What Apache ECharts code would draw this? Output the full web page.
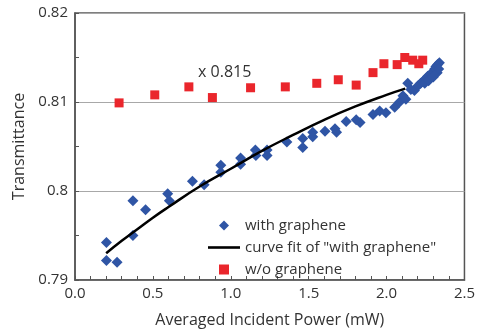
<!DOCTYPE html>
<html>
<head>
<meta charset="utf-8">
<script src="https://cdn.jsdelivr.net/npm/echarts@6/dist/echarts.min.js"></script>
<style>
  html, body { margin: 0; padding: 0; background: #fff; }
  #chart { width: 478px; height: 333px; }
</style>
</head>
<body>
<div id="chart"></div>
<script>
const blueColor = '#2f55a5';
const redColor = '#ea262c';
const textColor = '#333333';

// with graphene: [power mW, transmittance]
const withGraphene = [
  [0.202, 0.7942], [0.202, 0.7922], [0.270, 0.7920], [0.372, 0.7989], [0.372, 0.7950],
  [0.453, 0.7979], [0.595, 0.7997], [0.606, 0.7989], [0.754, 0.8011], [0.829, 0.8007],
  [0.936, 0.8029], [0.936, 0.8021], [1.063, 0.8037], [1.063, 0.8030], [1.158, 0.8046],
  [1.161, 0.8040], [1.233, 0.8046], [1.233, 0.8040], [1.360, 0.8055], [1.462, 0.8059],
  [1.462, 0.8049], [1.526, 0.8066], [1.526, 0.8061], [1.605, 0.8067], [1.669, 0.8070],
  [1.679, 0.8066], [1.741, 0.8078], [1.805, 0.8080], [1.830, 0.8077], [1.913, 0.8086],
  [1.956, 0.8090], [1.996, 0.8088], [2.052, 0.8094], [2.084, 0.8100], [2.105, 0.8107],
  [2.124, 0.8103], [2.136, 0.8121], [2.156, 0.8114], [2.179, 0.8113], [2.200, 0.8118],
  [2.219, 0.8121], [2.232, 0.8123], [2.251, 0.8126], [2.264, 0.8129], [2.277, 0.8127],
  [2.285, 0.8132], [2.290, 0.8129], [2.302, 0.8134], [2.309, 0.8137], [2.317, 0.8140],
  [2.328, 0.8142], [2.339, 0.8144], [2.245, 0.8121], [2.270, 0.8124], [2.300, 0.8128],
  [2.325, 0.8133], [2.335, 0.8137]
];

// curve fit of "with graphene"
const curveFit = [
  [0.20, 0.7930], [0.30, 0.7944], [0.40, 0.7957], [0.50, 0.7970], [0.60, 0.7982],
  [0.80, 0.8005], [1.00, 0.8025], [1.20, 0.8045], [1.40, 0.8063], [1.60, 0.8080],
  [1.80, 0.8095], [2.00, 0.8108], [2.12, 0.8115]
];

// w/o graphene (scaled x 0.815)
const withoutGraphene = [
  [0.283, 0.8099], [0.512, 0.8108], [0.731, 0.8117], [0.882, 0.8105], [1.127, 0.8116],
  [1.350, 0.8117], [1.552, 0.8121], [1.690, 0.8125], [1.805, 0.8119], [1.913, 0.8133],
  [1.983, 0.8143], [2.068, 0.8142], [2.117, 0.8150], [2.168, 0.8147], [2.207, 0.8143],
  [2.232, 0.8147]
];

const seriesNames = ['with graphene', 'curve fit of "with graphene"', 'w/o graphene'];
const scaleNote = 'x 0.815';

const myChart = echarts.init(document.getElementById('chart'));
const option = {
  animation: false,
  textStyle: { fontFamily: 'Open Sans', color: textColor },
  grid: {
    left: 75,
    right: 11,
    top: 13,
    bottom: 50,
    show: true,
    borderColor: '#555',
    borderWidth: 1.5,
  },
  legend: {
    orient: 'vertical',
    left: 203,
    top: 213,
    itemWidth: 32,
    itemHeight: 10,
    itemGap: 7,
    symbolKeepAspect: true,
    textStyle: { fontFamily: 'Open Sans', fontSize: 15, color: textColor },
    data: [
      { name: seriesNames[0], icon: 'path://M5,0L10,5L5,10L0,5Z' },
      { name: seriesNames[1], icon: 'path://M0,0H32V2.6H0Z' },
      { name: seriesNames[2], icon: 'path://M0,0H9V9H0Z' },
    ],
  },
  graphic: [
    {
      type: 'text',
      left: 198,
      top: 64,
      style: { text: scaleNote, font: '16px "Open Sans"', fill: textColor },
    },
  ],
  xAxis: {
    type: 'value',
    min: 0,
    max: 2.5,
    interval: 0.5,
    name: 'Averaged Incident Power (mW)',
    nameLocation: 'middle',
    nameGap: 32,
    nameTextStyle: { fontSize: 16, color: textColor },
    axisLine: { lineStyle: { color: '#555', width: 1.5 } },
    axisTick: { inside: true, length: 4, lineStyle: { color: '#555' } },
    minorTick: { show: true, splitNumber: 5, length: 4, lineStyle: { color: '#555' } },
    axisLabel: {
      fontSize: 15,
      color: textColor,
      margin: 6,
      formatter: (v) => v.toFixed(1),
    },
    splitLine: { show: false },
  },
  yAxis: {
    type: 'value',
    min: 0.79,
    max: 0.82,
    interval: 0.01,
    name: 'Transmittance',
    nameLocation: 'middle',
    nameGap: 44,
    nameTextStyle: { fontSize: 16, color: textColor },
    axisLine: { lineStyle: { color: '#555', width: 1.5 } },
    axisTick: { inside: true, length: 4, lineStyle: { color: '#555' } },
    minorTick: { show: true, splitNumber: 2, length: 4, lineStyle: { color: '#555' } },
    axisLabel: {
      fontSize: 15,
      color: textColor,
      margin: 7,
      formatter: (v) => String(+v.toFixed(2)),
    },
    splitLine: { show: true, lineStyle: { color: '#a8a8a8', width: 1.2 } },
  },
  series: [
    {
      name: seriesNames[0],
      type: 'scatter',
      symbol: 'diamond',
      symbolSize: 11,
      data: withGraphene,
      itemStyle: { color: blueColor, opacity: 1 },
      z: 3,
    },
    {
      name: seriesNames[1],
      type: 'line',
      data: curveFit,
      smooth: true,
      symbol: 'none',
      lineStyle: { color: '#000', width: 2.5 },
      itemStyle: { color: '#000' },
      z: 4,
    },
    {
      name: seriesNames[2],
      type: 'scatter',
      symbol: 'rect',
      symbolSize: 9,
      data: withoutGraphene,
      itemStyle: { color: redColor, opacity: 1 },
      z: 3,
    },
  ],
};
myChart.setOption(option);
</script>
</body>
</html>
